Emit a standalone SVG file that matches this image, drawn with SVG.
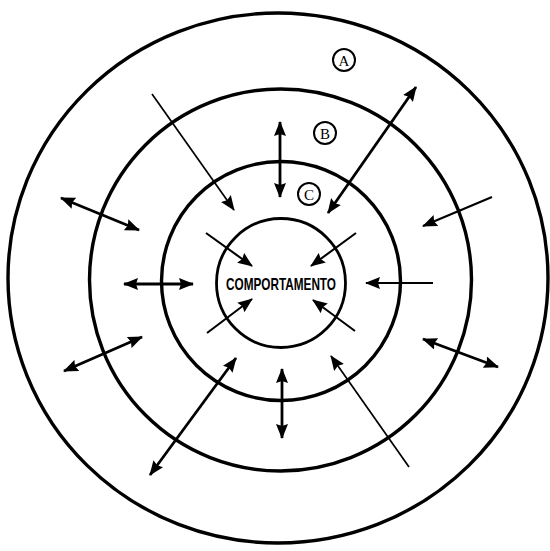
<svg xmlns="http://www.w3.org/2000/svg" width="550" height="551" viewBox="0 0 550 551">
<defs>
<style>
.ring{fill:none;stroke:#000;stroke-width:3.4}
.a{stroke:#000;fill:none;stroke-width:2.8;marker-end:url(#ah)}
.d{marker-start:url(#ah)}
.t{stroke-width:1.7}
.m{stroke-width:2.1}
.lab circle{fill:#fff;stroke:#000;stroke-width:2}
.lab text{font-family:"Liberation Serif",serif;font-size:15px;text-anchor:middle}
</style>
<marker id="ah" viewBox="0 0 15 12" refX="14" refY="6" markerWidth="15" markerHeight="12" markerUnits="userSpaceOnUse" orient="auto-start-reverse">
<path d="M0,0 L15,6 L0,12 L2,6 z" fill="#000"/>
</marker>
</defs>
<rect width="550" height="551" fill="#fff"/>
<g id="ringA"><ellipse class="ring" cx="278" cy="278" rx="270" ry="265"/></g>
<g id="ringB"><circle class="ring" cx="280.5" cy="280" r="191"/></g>
<g id="ringC"><circle class="ring" cx="281" cy="281" r="119.5"/></g>
<g id="core"><circle class="ring" cx="281" cy="283" r="64.5" style="stroke-width:2.8"/>
<text x="281" y="289.5" font-family="'Liberation Sans',Arial,sans-serif" font-weight="bold" font-size="17" text-anchor="middle" textLength="110" lengthAdjust="spacingAndGlyphs">COMPORTAMENTO</text></g>
<g id="labelA" class="lab"><circle cx="344" cy="60" r="11"/><text x="344" y="65.5">A</text></g>
<g id="labelB" class="lab"><circle cx="325" cy="133" r="11"/><text x="325" y="138.5">B</text></g>
<g id="labelC" class="lab"><circle cx="309" cy="194" r="11"/><text x="309" y="199.5">C</text></g>
<g id="connectors">
<line class="a d" x1="61" y1="198" x2="139" y2="230"/>
<line class="a d" x1="124" y1="284" x2="193" y2="284"/>
<line class="a d" x1="64" y1="371" x2="142" y2="337"/>
<line class="a d" x1="280" y1="122" x2="280" y2="197"/>
<line class="a d" x1="282" y1="369" x2="282" y2="438"/>
<line class="a d" x1="416" y1="87" x2="328" y2="213"/>
<line class="a d" x1="150" y1="475" x2="236" y2="358"/>
<line class="a d" x1="423" y1="339" x2="498" y2="367"/>
<line class="a t" x1="152" y1="94" x2="234" y2="210"/>
<line class="a m" x1="492" y1="197" x2="423" y2="226"/>
<line class="a m" x1="433" y1="283" x2="366" y2="283"/>
<line class="a t" x1="409" y1="467" x2="331" y2="356"/>
<line class="a m" x1="206" y1="233" x2="252" y2="266"/>
<line class="a m" x1="356" y1="233" x2="311" y2="266"/>
<line class="a m" x1="207" y1="333" x2="252" y2="299"/>
<line class="a m" x1="355" y1="331" x2="313" y2="300"/>
</g>
</svg>
